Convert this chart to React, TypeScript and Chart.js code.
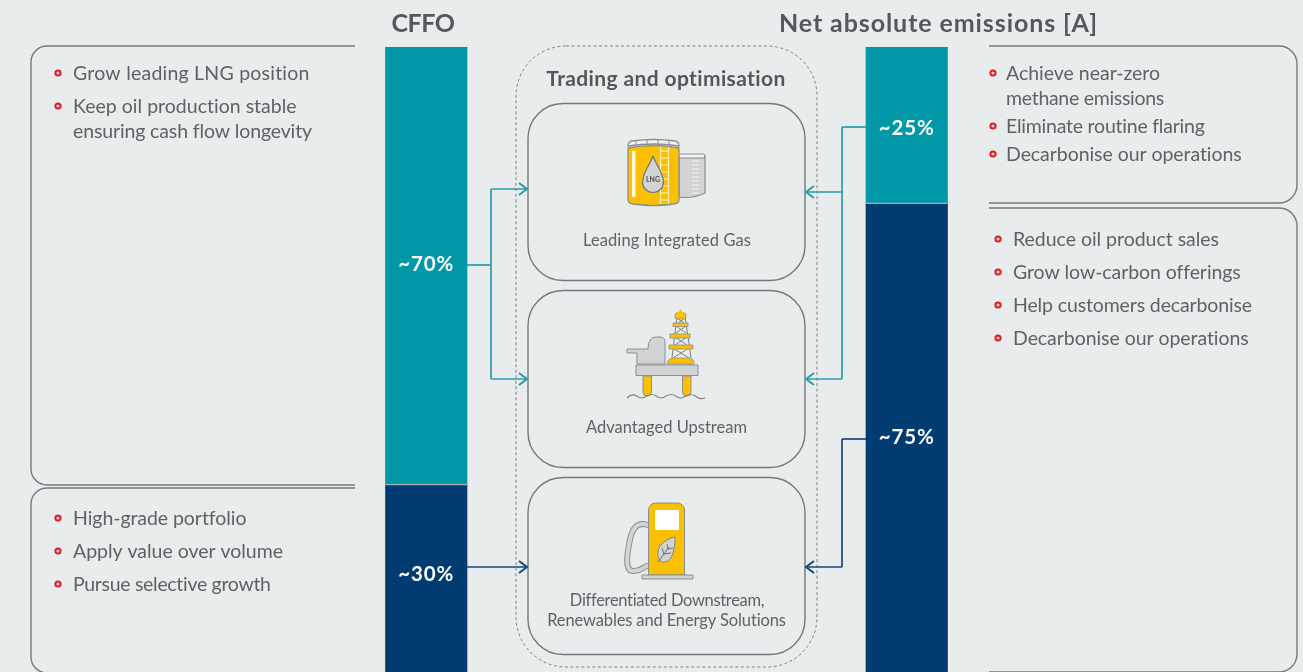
import React, { useEffect, useRef } from "react";
import { Chart, registerables } from "chart.js";

Chart.register(...registerables);

const categories = ["CFFO", "Net absolute emissions [A]"];
const upperShare = [70, 25];
const lowerShare = [30, 75];
const shareLabels = [["~70%", "~25%"], ["~30%", "~75%"]];
const sharedTitle = "Trading and optimisation";
const leftTopBullets = [["Grow leading LNG position"], ["Keep oil production stable", "ensuring cash flow longevity"]];
const leftBottomBullets = [["High-grade portfolio"], ["Apply value over volume"], ["Pursue selective growth"]];
const rightTopBullets = [["Achieve near-zero", "methane emissions"], ["Eliminate routine flaring"], ["Decarbonise our operations"]];
const rightBottomBullets = [["Reduce oil product sales"], ["Grow low-carbon offerings"], ["Help customers decarbonise"], ["Decarbonise our operations"]];
const gasLabel = ["Leading Integrated Gas"];
const upstreamLabel = ["Advantaged Upstream"];
const downstreamLabel = ["Differentiated Downstream,", "Renewables and Energy Solutions"];

const BG = "#e9ecec";
const TEAL = "#0098a6";
const NAVY = "#003c72";
const LINK_TEAL = "#2a9dab";
const LINK_NAVY = "#124a80";
const INK = "#5f6264";
const LINE = "#75797b";
const YELLOW = "#fbc000";
const GREY = "#d2d3d4";
const GREY_DK = "#8b8e90";
const RED = "#dd1d21";
const FONT = "Lato, sans-serif";

type C = CanvasRenderingContext2D;

// Draws one line of text; `fit` stretches the tracking so the line spans that many pixels.
function text(ctx: C, s: string, x: number, y: number, font: string, color: string, align: CanvasTextAlign = "left", fit = 0) {
  ctx.save();
  ctx.font = font;
  ctx.fillStyle = color;
  ctx.textAlign = align;
  ctx.textBaseline = "middle";
  if (fit > 0) {
    const natural = ctx.measureText(s).width;
    (ctx as any).letterSpacing = (fit - natural) / s.length + "px";
  }
  ctx.fillText(s, x, y);
  ctx.restore();
}

function bracket(ctx: C, pts: [number, number][], r: number) {
  ctx.save();
  ctx.strokeStyle = LINE;
  ctx.lineWidth = 1.4;
  ctx.beginPath();
  ctx.moveTo(pts[0][0], pts[0][1]);
  for (let i = 1; i < pts.length - 1; i++) ctx.arcTo(pts[i][0], pts[i][1], pts[i + 1][0], pts[i + 1][1], r);
  const last = pts[pts.length - 1];
  ctx.lineTo(last[0], last[1]);
  ctx.stroke();
  ctx.restore();
}

function card(ctx: C, x: number, y: number, w: number, h: number, r: number) {
  ctx.beginPath();
  ctx.roundRect(x, y, w, h, r);
  ctx.stroke();
}

function bullets(ctx: C, list: string[][], fits: number[], dotX: number, textX: number, y0: number, gap: number, lineGap: number) {
  let y = y0;
  let n = 0;
  for (const item of list) {
    ctx.save();
    ctx.strokeStyle = RED;
    ctx.fillStyle = "#f4d6d6";
    ctx.lineWidth = 2;
    ctx.beginPath();
    ctx.arc(dotX, y, 2.6, 0, Math.PI * 2);
    ctx.fill();
    ctx.stroke();
    ctx.restore();
    item.forEach((line, i) => {
      text(ctx, line, textX, y + 1 + i * lineGap, `400 19.5px ${FONT}`, INK, "left", fits[n++]);
    });
    y += (item.length - 1) * lineGap + gap;
  }
}

function link(ctx: C, color: string, segs: [number, number, number, number][], heads: [number, number, number][]) {
  ctx.save();
  ctx.strokeStyle = color;
  ctx.lineWidth = 1.7;
  for (const [a, b, c, d] of segs) {
    ctx.beginPath();
    ctx.moveTo(a, b);
    ctx.lineTo(c, d);
    ctx.stroke();
  }
  ctx.lineWidth = 2;
  for (const [x, y, dir] of heads) {
    ctx.beginPath();
    ctx.moveTo(x - dir * 8, y - 6);
    ctx.lineTo(x, y);
    ctx.lineTo(x - dir * 8, y + 6);
    ctx.stroke();
  }
  ctx.restore();
}

function shape(ctx: C, fill: string, stroke: string | null, lw: number, build: () => void) {
  ctx.save();
  ctx.fillStyle = fill;
  ctx.beginPath();
  build();
  ctx.fill();
  if (stroke) {
    ctx.strokeStyle = stroke;
    ctx.lineWidth = lw;
    ctx.stroke();
  }
  ctx.restore();
}

function tankIcon(ctx: C) {
  // small tank
  shape(ctx, GREY, GREY_DK, 1.2, () => {
    ctx.moveTo(679, 157);
    ctx.lineTo(705, 157);
    ctx.lineTo(705, 193);
    ctx.quadraticCurveTo(692, 199, 679, 197);
    ctx.closePath();
  });
  shape(ctx, "#f2f3f3", GREY_DK, 1.2, () => ctx.roundRect(678, 154, 27, 4, 2));
  ctx.save();
  ctx.strokeStyle = "#f4f4f4";
  ctx.lineWidth = 1;
  for (let y = 161; y < 196; y += 4) {
    ctx.beginPath();
    ctx.moveTo(692, y);
    ctx.lineTo(699, y);
    ctx.stroke();
  }
  ctx.restore();
  // main tank
  shape(ctx, YELLOW, GREY_DK, 1.3, () => {
    ctx.moveTo(628, 148);
    ctx.quadraticCurveTo(654, 143, 679, 148);
    ctx.lineTo(679, 200);
    ctx.quadraticCurveTo(679, 203, 674, 204);
    ctx.quadraticCurveTo(654, 207, 633, 204);
    ctx.quadraticCurveTo(628, 203, 628, 200);
    ctx.closePath();
  });
  shape(ctx, "#f2f3f3", GREY_DK, 1.3, () => {
    ctx.moveTo(628, 146);
    ctx.quadraticCurveTo(628, 142, 632, 141);
    ctx.quadraticCurveTo(654, 138, 675, 141);
    ctx.quadraticCurveTo(679, 142, 679, 146);
    ctx.quadraticCurveTo(654, 142, 628, 146);
    ctx.closePath();
  });
  ctx.save();
  ctx.strokeStyle = GREY_DK;
  ctx.lineWidth = 1;
  for (const x of [636, 647, 658, 669]) {
    ctx.beginPath();
    ctx.moveTo(x, 140);
    ctx.lineTo(x, 145);
    ctx.stroke();
  }
  ctx.strokeStyle = "#fff3c8";
  ctx.lineWidth = 1.1;
  for (const x of [660.5, 668.5]) {
    ctx.beginPath();
    ctx.moveTo(x, 147);
    ctx.lineTo(x, 204);
    ctx.stroke();
  }
  for (let y = 151; y < 204; y += 7) {
    ctx.beginPath();
    ctx.moveTo(660, y);
    ctx.lineTo(669, y);
    ctx.stroke();
  }
  ctx.fillStyle = "#fff8e0";
  ctx.fillRect(632, 151, 3.5, 46);
  ctx.restore();
  // drop
  shape(ctx, GREY, "#6f7274", 1.2, () => {
    ctx.moveTo(653, 156);
    ctx.bezierCurveTo(649, 167, 643, 172, 643, 180);
    ctx.arc(653, 182, 10.5, Math.PI, 0, true);
    ctx.bezierCurveTo(663, 172, 657, 167, 653, 156);
  });
  text(ctx, "LNG", 653, 180, `700 7px ${FONT}`, "#4d5052", "center");
}

function rigIcon(ctx: C) {
  // tower
  ctx.save();
  ctx.strokeStyle = "#7f8284";
  ctx.lineWidth = 1;
  const cross = [[673, 358, 689, 348], [689, 358, 673, 348], [675, 345, 687, 337], [687, 345, 675, 337], [676, 333, 686, 326], [686, 333, 676, 326], [677, 324, 685, 318], [685, 324, 677, 318]];
  for (const [a, b, c, d] of cross) {
    ctx.beginPath();
    ctx.moveTo(a, b);
    ctx.lineTo(c, d);
    ctx.stroke();
  }
  ctx.beginPath();
  ctx.moveTo(672, 358);
  ctx.lineTo(677, 316);
  ctx.moveTo(691, 358);
  ctx.lineTo(685, 316);
  ctx.stroke();
  ctx.restore();
  shape(ctx, YELLOW, GREY_DK, 0.8, () => ctx.roundRect(675, 313, 11, 6, 2));
  shape(ctx, YELLOW, null, 0, () => {
    ctx.moveTo(680.5, 309);
    ctx.lineTo(684, 314);
    ctx.lineTo(677, 314);
    ctx.closePath();
  });
  shape(ctx, YELLOW, GREY_DK, 0.8, () => ctx.rect(673, 323, 15, 3.5));
  shape(ctx, YELLOW, GREY_DK, 0.8, () => ctx.rect(670, 334, 20, 4));
  shape(ctx, YELLOW, GREY_DK, 0.8, () => ctx.rect(669, 345, 24, 4));
  // derrick base
  shape(ctx, YELLOW, GREY_DK, 0.8, () => {
    ctx.moveTo(667, 364);
    ctx.quadraticCurveTo(668, 358, 674, 358);
    ctx.lineTo(688, 358);
    ctx.quadraticCurveTo(694, 358, 694, 364);
    ctx.closePath();
  });
  // housing
  shape(ctx, GREY, GREY_DK, 1, () => {
    ctx.moveTo(627, 349);
    ctx.lineTo(648, 349);
    ctx.quadraticCurveTo(648, 337, 656, 337);
    ctx.lineTo(660, 337);
    ctx.quadraticCurveTo(665, 337, 665, 342);
    ctx.lineTo(665, 364);
    ctx.lineTo(637, 364);
    ctx.lineTo(637, 353);
    ctx.lineTo(627, 353);
    ctx.closePath();
  });
  // legs
  shape(ctx, YELLOW, GREY_DK, 1, () => ctx.roundRect(643, 376, 8.5, 20, [0, 0, 4, 4]));
  shape(ctx, YELLOW, GREY_DK, 1, () => ctx.roundRect(682.5, 376, 8.5, 20, [0, 0, 4, 4]));
  // deck
  shape(ctx, GREY, GREY_DK, 1, () => ctx.rect(636, 365, 62, 10.5));
  // waves
  ctx.save();
  ctx.strokeStyle = "#7f8284";
  ctx.lineWidth = 1.2;
  ctx.beginPath();
  ctx.moveTo(627, 398);
  for (let i = 0; i < 4; i++) {
    const x = 627 + i * 19.5;
    ctx.quadraticCurveTo(x + 5, 393, x + 9.75, 396);
    ctx.quadraticCurveTo(x + 14.5, 400, x + 19.5, 396 + (i === 3 ? 2 : 0));
  }
  ctx.stroke();
  ctx.restore();
}

function pumpIcon(ctx: C) {
  // hose
  ctx.save();
  ctx.lineCap = "round";
  ctx.strokeStyle = GREY_DK;
  ctx.lineWidth = 6;
  const hose = () => {
    ctx.beginPath();
    ctx.moveTo(648, 525);
    ctx.bezierCurveTo(636, 521, 631, 530, 629, 545);
    ctx.bezierCurveTo(626, 560, 626, 572, 634, 571);
    ctx.bezierCurveTo(642, 571, 644, 566, 648, 566);
    ctx.stroke();
  };
  hose();
  ctx.strokeStyle = GREY;
  ctx.lineWidth = 4;
  hose();
  ctx.restore();
  shape(ctx, YELLOW, GREY_DK, 1, () => ctx.roundRect(648.5, 503, 36, 72, [7, 7, 0, 0]));
  shape(ctx, "#ffffff", null, 0, () => ctx.rect(655, 510, 24, 20));
  shape(ctx, GREY, GREY_DK, 1, () => ctx.rect(642, 575, 51, 4));
  // leaf
  shape(ctx, GREY, "#7f8284", 1, () => {
    ctx.moveTo(675, 537);
    ctx.bezierCurveTo(668, 538, 659, 544, 658, 551);
    ctx.bezierCurveTo(657, 556, 659, 560, 662, 562);
    ctx.bezierCurveTo(670, 563, 675, 555, 675, 537);
  });
  ctx.save();
  ctx.strokeStyle = "#6f7274";
  ctx.lineWidth = 1;
  ctx.beginPath();
  ctx.moveTo(658, 562);
  ctx.lineTo(669, 547);
  ctx.moveTo(664, 554);
  ctx.lineTo(662, 548);
  ctx.moveTo(664, 554);
  ctx.lineTo(671, 553);
  ctx.moveTo(668, 549);
  ctx.lineTo(667, 544);
  ctx.moveTo(668, 549);
  ctx.lineTo(673, 548);
  ctx.stroke();
  ctx.restore();
}

const infographic = {
  id: "infographic",
  afterDatasetsDraw(chart: any) {
    const ctx: C = chart.ctx;
    ctx.save();

    // separators between stacked segments
    const lowerMeta = chart.getDatasetMeta(0);
    const upperMeta = chart.getDatasetMeta(1);
    ctx.fillStyle = "#a9b6bb";
    upperMeta.data.forEach((bar: any) => {
      ctx.fillRect(bar.x - bar.width / 2, bar.base - 0.5, bar.width, 1.2);
    });

    // segment labels
    const labelShift = [[-1, 3], [-4, 0]];
    [upperMeta, lowerMeta].forEach((meta: any, s: number) => {
      meta.data.forEach((bar: any, i: number) => {
        const cy = (bar.y + bar.base) / 2 + labelShift[s][i];
        text(ctx, shareLabels[s][i], bar.x, cy, `700 20.5px ${FONT}`, "#ffffff", "center", 56);
      });
    });

    // headings
    text(ctx, categories[0], 423, 23.5, `700 25px ${FONT}`, "#54585a", "center", 63);
    text(ctx, categories[1], 938.5, 23.5, `700 25px ${FONT}`, "#54585a", "center", 319);

    // side brackets
    bracket(ctx, [[355, 46], [31, 46], [31, 485], [355, 485]], 16);
    bracket(ctx, [[355, 488], [31, 488], [31, 673], [355, 673]], 16);
    bracket(ctx, [[989, 46], [1297, 46], [1297, 203], [989, 203]], 18);
    bracket(ctx, [[989, 208], [1297, 208], [1297, 672], [989, 672]], 18);

    // centre frame
    ctx.save();
    ctx.strokeStyle = "#7d8183";
    ctx.lineWidth = 1;
    ctx.setLineDash([3, 2.5]);
    card(ctx, 516, 46, 301, 621, 50);
    ctx.restore();

    ctx.save();
    ctx.strokeStyle = LINE;
    ctx.lineWidth = 1.4;
    card(ctx, 528, 103.5, 277, 177, 35);
    card(ctx, 528, 290.5, 277, 177, 35);
    card(ctx, 528, 477.5, 277, 177, 35);
    ctx.restore();

    text(ctx, sharedTitle, 666, 79.5, `700 21px ${FONT}`, "#54585a", "center", 240);

    // connectors
    link(ctx, LINK_TEAL, [[467, 265, 491, 265], [491, 189, 491, 379], [491, 189, 527, 189], [491, 379, 527, 379]], [[527, 189, 1], [527, 379, 1]]);
    link(ctx, LINK_NAVY, [[467, 567, 527, 567]], [[527, 567, 1]]);
    link(ctx, LINK_TEAL, [[866, 127, 842, 127], [842, 127, 842, 379], [842, 192, 806, 192], [842, 379, 806, 379]], [[806, 192, -1], [806, 379, -1]]);
    link(ctx, LINK_NAVY, [[866, 439, 842, 439], [842, 439, 842, 567], [842, 567, 806, 567]], [[806, 567, -1]]);

    // bullets
    bullets(ctx, leftTopBullets, [237, 224, 239], 58, 73, 73, 33, 25);
    bullets(ctx, leftBottomBullets, [173, 210, 198], 58, 73, 518, 33, 25);
    bullets(ctx, rightTopBullets, [154, 158, 199, 236], 993, 1006, 73, 28, 25);
    bullets(ctx, rightBottomBullets, [206, 227, 239, 236], 998, 1013, 239, 33, 25);

    // icons
    tankIcon(ctx);
    rigIcon(ctx);
    pumpIcon(ctx);

    // card captions
    const cap = `400 16.5px ${FONT}`;
    text(ctx, gasLabel[0], 667, 240.5, cap, INK, "center", 168);
    text(ctx, upstreamLabel[0], 666.5, 427.5, cap, INK, "center", 161);
    text(ctx, downstreamLabel[0], 667, 600.5, cap, INK, "center", 194);
    text(ctx, downstreamLabel[1], 666.5, 620.5, cap, INK, "center", 239);

    ctx.restore();
  },
};

export default function App() {
  const ref = useRef<HTMLCanvasElement>(null);
  useEffect(() => {
    const chart = new Chart(ref.current!, {
      type: "bar",
      data: {
        labels: categories,
        datasets: [
          { label: "Lower", data: lowerShare, backgroundColor: NAVY, barThickness: 81.5 },
          { label: "Upper", data: upperShare, backgroundColor: TEAL, barThickness: 81.5 },
        ],
      },
      options: {
        responsive: false,
        animation: false,
        layout: { padding: { left: 186, right: 156, top: 47, bottom: 0 } },
        plugins: { legend: { display: false }, tooltip: { enabled: false }, title: { display: false } },
        scales: {
          x: { display: false, stacked: true },
          y: { display: false, stacked: true, min: 0, max: 100 },
        },
      },
      plugins: [infographic],
    } as any);
    return () => chart.destroy();
  }, []);
  return (
    <div style={{ position: "fixed", inset: 0, background: BG, overflow: "hidden" }}>
      <canvas ref={ref} width={1303} height={672} style={{ display: "block", width: 1303, height: 672 }} />
    </div>
  );
}
